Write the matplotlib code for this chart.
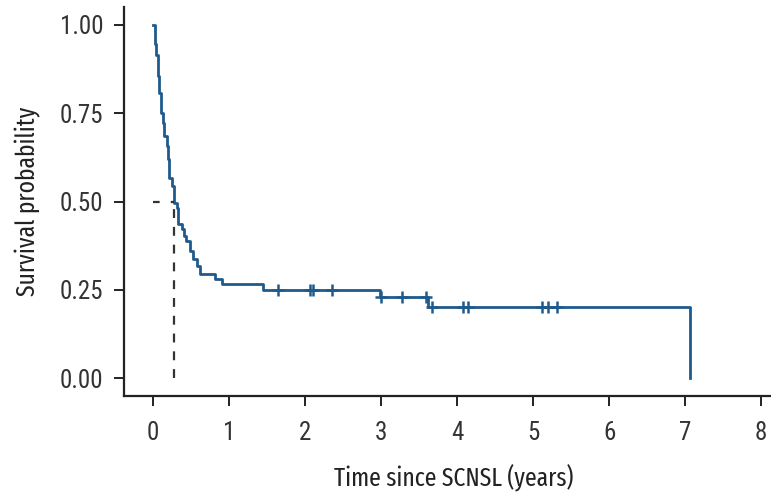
# Kaplan-Meier curve, survival after SCNSL
import matplotlib
matplotlib.use('Agg')
import matplotlib.pyplot as plt
import numpy as np

plt.rcParams['font.family'] = ['Roboto Condensed', 'DejaVu Sans']
label_font = ['Fira Sans Extra Condensed', 'Roboto Condensed', 'DejaVu Sans']

# step times (years) and survival right after each step
step_times = [0.0, 0.02, 0.04, 0.06, 0.08, 0.10, 0.13, 0.15, 0.18, 0.20, 0.21,
              0.25, 0.28, 0.31, 0.33, 0.38, 0.41, 0.44, 0.49, 0.53, 0.58,
              0.62, 0.82, 0.91, 1.45, 2.98, 3.62, 7.07]
step_surv = [1.0, 0.944, 0.915, 0.854, 0.806, 0.749, 0.721, 0.685, 0.656, 0.620,
             0.566, 0.544, 0.496, 0.482, 0.437, 0.423, 0.403, 0.389, 0.361, 0.338,
             0.318, 0.296, 0.282, 0.268, 0.250, 0.231, 0.203, 0.0]

# censored observations
cens_times = [1.64, 2.07, 2.11, 2.36, 3.00, 3.28, 3.59, 3.67, 4.08, 4.14,
              5.12, 5.20, 5.32]
cens_surv = [0.250, 0.250, 0.250, 0.250, 0.231, 0.231, 0.231, 0.203, 0.203,
             0.203, 0.203, 0.203, 0.203]

median_time = 0.28

blue = '#1f5a8c'
dark = '#222222'

fig = plt.figure(figsize=(7.71, 4.97), dpi=100)
ax = fig.add_axes([0.161, 0.203, 0.839, 0.783])

ax.step(step_times, step_surv, where='post', color=blue, lw=2)
ax.plot(cens_times, cens_surv, ls='none', marker='+', ms=8, mew=1.8, color=blue)

# median survival guide lines
ax.plot([0, median_time], [0.5, 0.5], color='#333333', lw=1.6, ls=(0, (3, 5)))
ax.plot([median_time, median_time], [0, 0.5], color='#333333', lw=1.6,
        ls=(0, (4, 4)))

ax.set_xlim(-0.38, 8.13)
ax.set_ylim(-0.05, 1.05)
ax.set_xticks(np.arange(0, 9))
ax.set_yticks([0, 0.25, 0.5, 0.75, 1.0])
ax.set_yticklabels(['0.00', '0.25', '0.50', '0.75', '1.00'])

for side in ['top', 'right']:
    ax.spines[side].set_visible(False)
for side in ['left', 'bottom']:
    ax.spines[side].set_linewidth(1.6)
    ax.spines[side].set_color(dark)

ax.tick_params(direction='out', length=7, width=1.4, color=dark,
               labelsize=18, labelcolor='#333333')
ax.tick_params(axis='x', pad=11)
ax.tick_params(axis='y', pad=8)

ax.set_xlabel('Time since SCNSL (years)', fontsize=18.5, color='#222222',
              family=label_font)
ax.set_ylabel('Survival probability', fontsize=18.5, color='#222222',
              family=label_font)
ax.xaxis.set_label_coords(0.51, -0.177)
ax.yaxis.set_label_coords(-0.128, 0.5)

fig.savefig('out.png', dpi=100)
